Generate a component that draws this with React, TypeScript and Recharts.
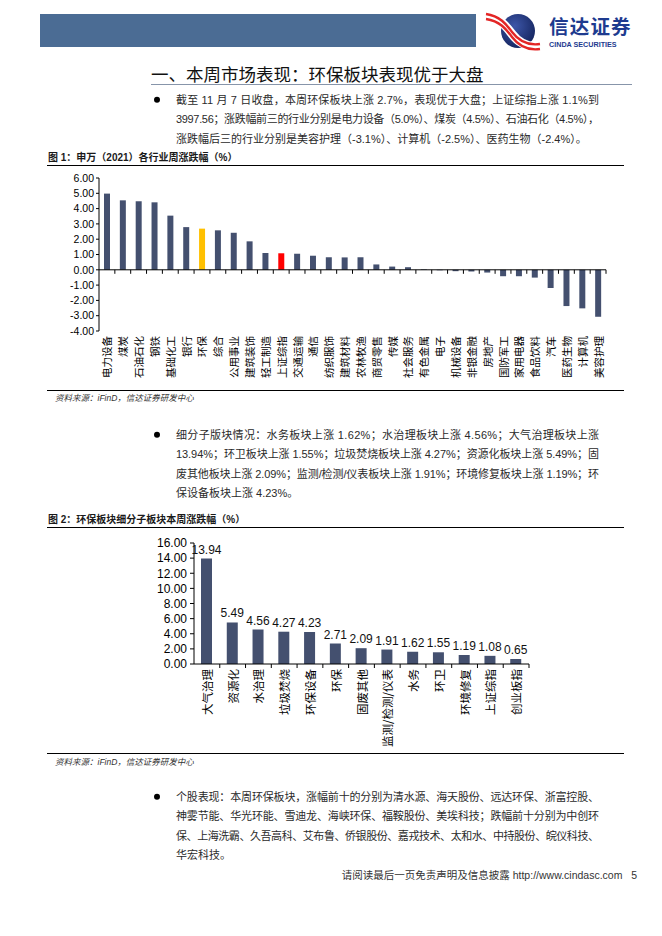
import React from 'react';
import { BarChart, Bar, XAxis, YAxis, ReferenceLine, Cell, LabelList } from 'recharts';

// ---------- Data ----------
const industryNames = [
  '电力设备', '煤炭', '石油石化', '钢铁', '基础化工', '银行', '环保', '综合', '公用事业', '建筑装饰',
  '轻工制造', '上证综指', '交通运输', '通信', '纺织服饰', '建筑材料', '农林牧渔', '商贸零售', '传媒', '社会服务',
  '有色金属', '电子', '机械设备', '非银金融', '房地产', '国防军工', '家用电器', '食品饮料', '汽车', '医药生物',
  '计算机', '美容护理',
];
const industryChanges = [
  4.98, 4.54, 4.48, 4.41, 3.54, 2.79, 2.69, 2.58, 2.42, 1.86,
  1.1, 1.08, 1.05, 0.92, 0.82, 0.81, 0.82, 0.35, 0.21, 0.17,
  0.03, -0.03, -0.09, -0.11, -0.18, -0.42, -0.42, -0.51, -1.19, -2.37,
  -2.52, -3.07,
];
const industryTicks = [6, 5, 4, 3, 2, 1, 0, -1, -2, -3, -4];

const subsectorNames = [
  '大气治理', '资源化', '水治理', '垃圾焚烧', '环保设备', '环保', '固废其他',
  '监测/检测/仪表', '水务', '环卫', '环境修复', '上证综指', '创业板指',
];
const subsectorChanges = [13.94, 5.49, 4.56, 4.27, 4.23, 2.71, 2.09, 1.91, 1.62, 1.55, 1.19, 1.08, 0.65];
const subsectorTicks = [0, 2, 4, 6, 8, 10, 12, 14, 16];

const industryData = industryNames.map((name, i) => ({ name, value: industryChanges[i] }));
const subsectorData = subsectorNames.map((name, i) => ({ name, value: subsectorChanges[i] }));

// ---------- Styles ----------
const BAR = '#44506F';
const highlight: Record<string, string> = { 环保: '#FFC000', 上证综指: '#FF0000' };
const CJK = '"Noto Sans CJK SC", sans-serif';
const MIX = '"Liberation Sans", "Noto Sans CJK SC", sans-serif';

const para1 = [
  '截至 11 月 7 日收盘，本周环保板块上涨 2.7%，表现优于大盘；上证综指上涨 1.1%到',
  '3997.56；涨跌幅前三的行业分别是电力设备（5.0%）、煤炭（4.5%）、石油石化（4.5%），',
  '涨跌幅后三的行业分别是美容护理（-3.1%）、计算机（-2.5%）、医药生物（-2.4%）。',
];
const para2 = [
  '细分子版块情况：水务板块上涨 1.62%；水治理板块上涨 4.56%；大气治理板块上涨',
  '13.94%；环卫板块上涨 1.55%；垃圾焚烧板块上涨 4.27%；资源化板块上涨 5.49%；固',
  '废其他板块上涨 2.09%；监测/检测/仪表板块上涨 1.91%；环境修复板块上涨 1.19%；环',
  '保设备板块上涨 4.23%。',
];
const para3 = [
  '个股表现：本周环保板块，涨幅前十的分别为清水源、海天股份、远达环保、浙富控股、',
  '神雾节能、华光环能、雪迪龙、海峡环保、福鞍股份、美埃科技；跌幅前十分别为中创环',
  '保、上海洗霸、久吾高科、艾布鲁、侨银股份、嘉戎技术、太和水、中持股份、皖仪科技、',
  '华宏科技。',
];

const LH = 19.4;
const TEXT_X = 176;
const TEXT_W = 423;

const Paragraph = ({ top, lines, fullWidth }: { top: number; lines: string[]; fullWidth: number[] }) => (
  <svg
    style={{ position: 'absolute', left: 0, top }}
    width={662}
    height={lines.length * LH + 4}
  >
    <circle cx={157} cy={LH / 2} r={3} fill="#000" />
    {lines.map((t, i) => (
      <text
        key={i}
        x={TEXT_X}
        y={i * LH + LH / 2 + 4}
        fontSize={11}
        fontFamily={MIX}
        fill="#2a2a2a"
        {...(fullWidth[i] ? { textLength: fullWidth[i], lengthAdjust: 'spacing' } : {})}
      >
        {t}
      </text>
    ))}
  </svg>
);

const Rule = ({ top, left = 47, width = 577, h = 1.5, color = '#000' }: any) => (
  <div style={{ position: 'absolute', left, top, width, height: h, background: color }} />
);

const FigTitle = ({ top, text }: { top: number; text: string }) => (
  <div style={{ position: 'absolute', left: 48, top, height: 14, lineHeight: '14px', fontSize: 10, fontWeight: 700, fontFamily: MIX, color: '#1a1a1a', whiteSpace: 'nowrap' }}>
    {text}
  </div>
);

const Source = ({ top }: { top: number }) => (
  <div style={{ position: 'absolute', left: 55, top, height: 12, lineHeight: '12px', fontSize: 8.5, fontStyle: 'italic', fontFamily: MIX, color: '#333', whiteSpace: 'nowrap' }}>
    资料来源：iFinD，信达证券研发中心
  </div>
);

const zeroAxisShape = (count: number, tickLen: number) => (props: any) => {
  const { x1, x2, y1 } = props;
  const step = (x2 - x1) / count;
  const marks = [];
  for (let i = 1; i <= count; i++) {
    const x = x1 + i * step;
    marks.push(<line key={i} x1={x} x2={x} y1={y1} y2={y1 + tickLen} stroke="#000" strokeWidth={1} />);
  }
  return (
    <g>
      <line x1={x1} x2={x2} y1={y1} y2={y1} stroke="#000" strokeWidth={1} />
      {marks}
    </g>
  );
};

const verticalTick = (fontSize: number) => (props: any) => {
  const { x, y, payload } = props;
  return (
    <text
      transform={`translate(${x},${y}) rotate(-90)`}
      textAnchor="end"
      dominantBaseline="central"
      fontSize={fontSize}
      fontFamily={CJK}
      fill="#000"
    >
      {payload.value}
    </text>
  );
};

const fmt2 = (v: number) => v.toFixed(2);

const Logo = () => (
  <svg style={{ position: 'absolute', left: 484, top: 10 }} width={60} height={42} viewBox="484 10 60 42">
    <defs>
      <radialGradient id="lg" cx="0.4" cy="0.35" r="0.7">
        <stop offset="0%" stopColor="#3d56a8" />
        <stop offset="100%" stopColor="#14245e" />
      </radialGradient>
    </defs>
    <circle cx={518} cy={31} r={17} fill="url(#lg)" />
    <path d="M486 16 C 500 18, 506 26, 512 34 S 526 48, 540 46" stroke="#fff" strokeWidth={9} fill="none" />
    <path d="M486 14 C 500 16, 506 24, 512 32 S 526 46, 540 44" stroke="#E32626" strokeWidth={2.4} fill="none" />
    <path d="M486 19 C 500 21, 506 29, 512 37 S 526 51, 540 49" stroke="#E32626" strokeWidth={2.4} fill="none" />
  </svg>
);

export default function App() {
  return (
    <div style={{ position: 'absolute', left: 0, top: 0, width: 662, height: 936, background: '#fff', overflow: 'hidden' }}>
      {/* Header */}
      <div style={{ position: 'absolute', left: 40, top: 14, width: 436, height: 33, background: '#4B6C94' }} />
      <Logo />
      <div style={{ position: 'absolute', left: 549, top: 16, fontSize: 19.5, lineHeight: '19px', height: 19, fontWeight: 700, fontFamily: CJK, color: '#1E3B8F', letterSpacing: 1.2, whiteSpace: 'nowrap' }}>
        信达证券
      </div>
      <div style={{ position: 'absolute', left: 549, top: 41, fontSize: 7.2, lineHeight: '8px', height: 8, fontWeight: 700, fontFamily: '"Liberation Sans", sans-serif', color: '#1E3B8F', whiteSpace: 'nowrap' }}>
        CINDA SECURITIES
      </div>

      {/* Section heading */}
      <div style={{ position: 'absolute', left: 151, top: 62, height: 24, lineHeight: '24px', fontSize: 17.5, fontFamily: CJK, color: '#111', whiteSpace: 'nowrap' }}>
        一、本周市场表现：环保板块表现优于大盘
      </div>
      <Rule top={84} left={151} width={481} h={1} color="#8795AA" />

      <Paragraph top={90.3} lines={para1} fullWidth={[TEXT_W, TEXT_W, 0]} />

      {/* Figure 1 */}
      <FigTitle top={151} text="图 1：申万（2021）各行业周涨跌幅（%）" />
      <Rule top={164.5} />
      <div style={{ position: 'absolute', left: 0, top: 166 }}>
        <BarChart
          width={662}
          height={223}
          data={industryData}
          margin={{ top: 12, right: 56, bottom: 3, left: 39 }}
          barSize={6}
        >
          <XAxis
            dataKey="name"
            type="category"
            interval={0}
            axisLine={false}
            tickLine={false}
            tickSize={0}
            tickMargin={5}
            height={55}
            tick={verticalTick(10.5)}
          />
          <YAxis
            type="number"
            domain={[-4, 6]}
            ticks={industryTicks}
            interval={0}
            width={60}
            tickFormatter={fmt2}
            axisLine={{ stroke: '#000' }}
            tickLine={{ stroke: '#000' }}
            tickSize={3}
            tickMargin={2}
            tick={{ fontSize: 10.5, fill: '#000', fontFamily: '"Liberation Sans", sans-serif' }}
          />
          <Bar dataKey="value" isAnimationActive={false}>
            {industryData.map((d) => (
              <Cell key={d.name} fill={highlight[d.name] || BAR} />
            ))}
          </Bar>
          <ReferenceLine y={0} shape={zeroAxisShape(industryData.length, 4)} />
        </BarChart>
      </div>
      <Rule top={389.5} />
      <Source top={392} />

      <Paragraph top={425.3} lines={para2} fullWidth={[TEXT_W, TEXT_W, TEXT_W, 0]} />

      {/* Figure 2 */}
      <FigTitle top={513} text="图 2：环保板块细分子板块本周涨跌幅（%）" />
      <Rule top={526.5} />
      <div style={{ position: 'absolute', left: 0, top: 528 }}>
        <BarChart
          width={662}
          height={224}
          data={subsectorData}
          margin={{ top: 15, right: 133, bottom: 3, left: 134 }}
          barSize={11}
        >
          <XAxis
            dataKey="name"
            type="category"
            interval={0}
            axisLine={false}
            tickLine={false}
            tickSize={0}
            tickMargin={5}
            height={85}
            tick={verticalTick(11.5)}
          />
          <YAxis
            type="number"
            domain={[0, 16]}
            ticks={subsectorTicks}
            interval={0}
            width={60}
            tickFormatter={fmt2}
            axisLine={{ stroke: '#000' }}
            tickLine={{ stroke: '#000' }}
            tickSize={4}
            tickMargin={3}
            tick={{ fontSize: 12, fill: '#000', fontFamily: '"Liberation Sans", sans-serif' }}
          />
          <Bar dataKey="value" fill={BAR} isAnimationActive={false}>
            <LabelList
              dataKey="value"
              position="top"
              offset={5}
              formatter={(v: any) => Number(v).toFixed(2)}
              style={{ fontSize: 12, fill: '#111', fontFamily: '"Liberation Sans", sans-serif' }}
            />
          </Bar>
          <ReferenceLine y={0} shape={zeroAxisShape(subsectorData.length, 4)} />
        </BarChart>
      </div>
      <Rule top={752.5} />
      <Source top={756} />

      <Paragraph top={787.3} lines={para3} fullWidth={[TEXT_W, TEXT_W, TEXT_W, 0]} />

      {/* Footer */}
      <div style={{ position: 'absolute', right: 25, top: 868, height: 14, lineHeight: '14px', fontSize: 10.5, fontFamily: MIX, color: '#333', whiteSpace: 'pre' }}>
        {'请阅读最后一页免责声明及信息披露 http://www.cindasc.com   5'}
      </div>
    </div>
  );
}
